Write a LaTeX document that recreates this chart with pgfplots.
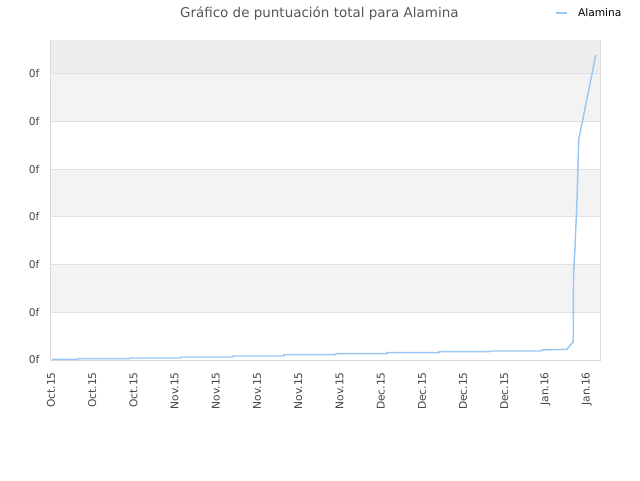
\documentclass[border=0pt]{standalone}
\usepackage{pgfplots}
\pgfplotsset{compat=1.18}
\usepackage{fontspec}
\setmainfont{DejaVu Sans}
\definecolor{serie}{RGB}{153,199,245}
\definecolor{bandA}{RGB}{238,238,238}
\definecolor{bandB}{RGB}{243,243,243}
\definecolor{gridc}{RGB}{224,224,224}
\definecolor{framec}{RGB}{216,216,216}
\definecolor{titlec}{RGB}{85,85,85}
\definecolor{tickc}{RGB}{68,68,68}
\begin{document}
\begin{tikzpicture}
\useasboundingbox (0,0) rectangle (480pt,360pt);
\node[font=\fontsize{10.1pt}{11pt}\selectfont, text=titlec, inner sep=0pt] at (239.5pt,350pt) {Gráfico de puntuación total para Alamina};
\begin{axis}[
    at={(38.25pt,90pt)}, anchor=south west,
    scale only axis, width=411.75pt, height=240pt,
    xmin=0, xmax=13.32, ymin=0, ymax=6.713,
    xtick={0,...,13},
    xticklabels={Oct.15,Oct.15,Oct.15,Nov.15,Nov.15,Nov.15,Nov.15,Nov.15,Dec.15,Dec.15,Dec.15,Dec.15,Jan.16,Jan.16},
    ytick={0,...,6},
    yticklabels={0f,0f,0f,0f,0f,0f,0f},
    major tick length=0pt,
    axis line style={framec, line width=0.75pt},
    tick label style={font=\fontsize{8pt}{9pt}\selectfont, text=tickc},
    x tick label style={rotate=90, anchor=east, inner sep=0pt, xshift=-9pt},
    yticklabel style={inner sep=0pt, xshift=-8.5pt},
    legend style={at={(rel axis cs:0.918,1.084)}, anchor=west, draw=none, fill=none,
        font=\fontsize{8pt}{9pt}\selectfont, inner sep=0pt, legend cell align=left},
    legend image code/.code={\draw[#1, line width=1.1pt] (0pt,0pt) -- (8pt,0pt); \path (14pt,0pt);},
]
% background bands and horizontal grid
\fill[bandA] (axis cs:0,6) rectangle (axis cs:13.32,6.713);
\fill[bandB] (axis cs:0,5) rectangle (axis cs:13.32,6);
\fill[bandB] (axis cs:0,3) rectangle (axis cs:13.32,4);
\fill[bandB] (axis cs:0,1) rectangle (axis cs:13.32,2);
\foreach \g in {1,...,6} {
  \edef\tmp{\noexpand\draw[gridc, line width=0.75pt] (axis cs:0,\g) -- (axis cs:13.32,\g);}
  \tmp
}
\addplot[serie, line width=1.1pt, line join=round] coordinates {
(0.024,0.015) (0.655,0.015) (0.655,0.027) (1.916,0.027) (1.916,0.042)
(3.153,0.042) (3.153,0.063) (4.414,0.063) (4.414,0.084) (5.651,0.084)
(5.651,0.111) (6.912,0.111) (6.912,0.132) (8.149,0.132) (8.149,0.153)
(9.410,0.153) (9.410,0.174) (10.648,0.174) (10.648,0.189) (11.909,0.189)
(11.909,0.210) (12.515,0.224) (12.670,0.384) (12.678,1.825) (12.710,2.308)
(12.733,2.769) (12.765,3.398) (12.790,4.196) (12.806,4.636) (13.218,6.398)
};
\addlegendentry{Alamina}
\end{axis}
\end{tikzpicture}
\end{document}
